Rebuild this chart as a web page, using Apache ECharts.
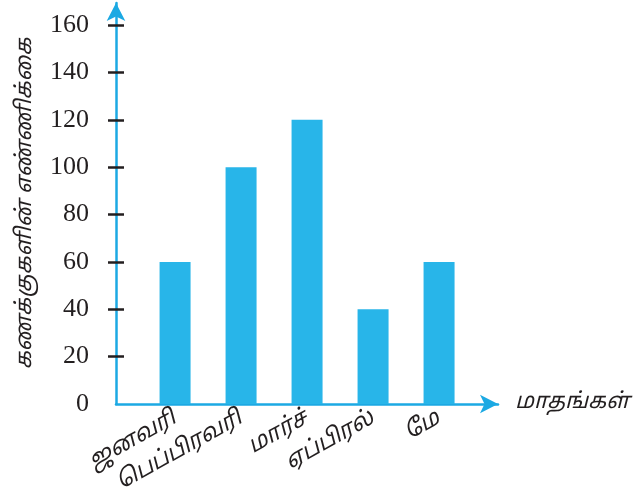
<!DOCTYPE html>
<html>
<head>
<meta charset="utf-8">
<script src="https://cdn.jsdelivr.net/npm/echarts@6/dist/echarts.min.js"></script>
<style>
  html, body { margin: 0; padding: 0; background: #ffffff; }
  #chart { width: 636px; height: 488px; }
</style>
</head>
<body>
<div id="chart"></div>
<script>
// Months shown along the horizontal axis
const months = ['ஜனவரி', 'பெப்பிரவரி', 'மார்ச்', 'ஏப்பிரல்', 'மே'];
// Number of accounts per month
const accounts = [60, 100, 120, 40, 60];
// Values shown on the vertical axis
const yTicks = [0, 20, 40, 60, 80, 100, 120, 140, 160];

const xTitle = 'மாதங்கள்';
const yTitle = 'கணக்குகளின் எண்ணிக்கை';

const axisBlue = '#1ca9e3';
const barBlue = '#28b5e9';
const ink = '#231f20';
const tamilFont = "'Noto Sans Tamil', 'Lohit Tamil', 'Noto Sans', sans-serif";
const serifFont = "'Liberation Serif', 'Times New Roman', serif";

// Month positions 1..n on the horizontal value scale
const monthPos = months.map((m, i) => i + 1);
const barData = accounts.map((v, i) => [monthPos[i], v]);

const chart = echarts.init(document.getElementById('chart'), null, { renderer: 'canvas' });

chart.setOption({
  animation: false,
  backgroundColor: '#ffffff',
  grid: {
    left: 116, right: 138, top: 3, bottom: 84,
    containLabel: false,
    outerBoundsMode: 'none'
  },
  xAxis: {
    type: 'value',
    min: 0.105,
    max: 5.893,
    splitLine: { show: false },
    axisLine: {
      show: true,
      onZero: false,
      symbol: ['none', 'arrow'],
      symbolSize: [14, 18],
      lineStyle: { color: axisBlue, width: 2.5 }
    },
    axisTick: { show: false },
    axisLabel: {
      customValues: monthPos,
      rotate: 29,
      margin: 14,
      color: ink,
      fontFamily: tamilFont,
      fontStyle: 'italic',
      fontSize: 23,
      formatter: v => months[Math.round(v) - 1] || ''
    },
    name: xTitle,
    nameLocation: 'end',
    nameGap: 17,
    nameTextStyle: {
      color: ink,
      fontFamily: tamilFont,
      fontStyle: 'italic',
      fontSize: 22,
      padding: [0, 0, 44, 0]
    }
  },
  yAxis: [
    {
      type: 'value',
      min: 0,
      max: 169.3,
      splitLine: { show: false },
      axisLine: {
        show: true,
        onZero: false,
        symbol: ['none', 'arrow'],
        symbolSize: [14, 18],
        lineStyle: { color: axisBlue, width: 2.5 }
      },
      axisTick: {
        show: true,
        customValues: yTicks.slice(1),
        length: 8,
        lineStyle: { color: ink, width: 2.5 }
      },
      axisLabel: {
        customValues: yTicks,
        margin: 27,
        color: ink,
        fontFamily: serifFont,
        fontSize: 26
      },
      name: yTitle,
      nameLocation: 'middle',
      nameGap: 78,
      nameTextStyle: {
        color: ink,
        fontFamily: tamilFont,
        fontStyle: 'italic',
        fontSize: 22
      }
    },
    {
      // inward half of the crossing tick marks
      type: 'value',
      position: 'left',
      min: 0,
      max: 169.3,
      splitLine: { show: false },
      axisLine: { show: false },
      axisTick: {
        show: true,
        inside: true,
        customValues: yTicks.slice(1),
        length: 8,
        lineStyle: { color: ink, width: 2.5 }
      },
      axisLabel: { show: false }
    }
  ],
  series: [
    {
      type: 'bar',
      data: barData,
      barWidth: 31,
      itemStyle: { color: barBlue },
      z: 1
    }
  ]
});
</script>
</body>
</html>
